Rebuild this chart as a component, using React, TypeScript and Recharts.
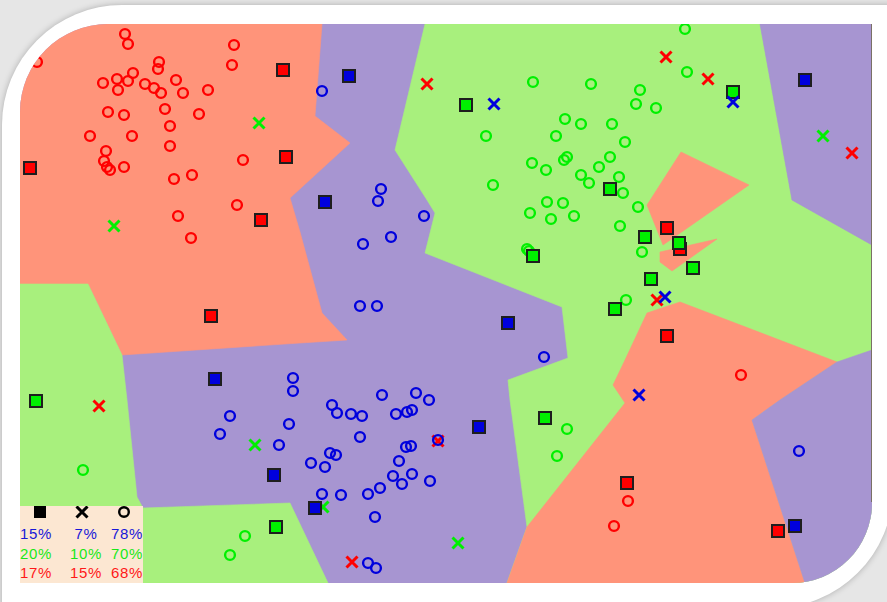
import React from 'react';
import { ScatterChart, Scatter, XAxis, YAxis } from 'recharts';

// feature space of the classifier plot
const X_MAX = 852;
const Y_MAX = 559;

const SALMON = '#FF947A';
const LAVENDER = '#A795D1';
const LIME = '#A8F07D';
const RED = '#FF0000';
const GREEN = '#00F000';
const BLUE = '#0000DD';

// decision regions (polygon vertices)
const regionBackground = [[0, 0], [852, 0], [852, 559], [0, 559]];
const regionRedTopLeft = [[0, 559], [302, 559], [295, 467], [330, 440], [270, 385], [280, 351], [302, 270], [327, 243], [280, 240], [102, 228], [68, 299], [0, 299]];
const regionGreenLeft = [[0, 299], [68, 299], [102, 228], [107, 183], [117, 86], [123, 75], [270, 80], [308, 0], [0, 0]];
const regionGreenMain = [[405, 559], [740, 559], [772, 383], [852, 338], [852, 0], [487, 0], [507, 56], [490, 183], [488, 203], [548, 225], [542, 276], [405, 330], [415, 370], [407, 383], [375, 433]];
const regionRedBottom = [[487, 0], [507, 56], [605, 180], [593, 198], [605, 223], [627, 270], [660, 281], [817, 221], [760, 183], [732, 163], [785, 0]];
const regionBlueBottomRight = [[852, 233], [817, 221], [760, 183], [732, 163], [785, 0], [852, 0]];
const regionBlueTopRight = [[740, 559], [852, 559], [852, 338], [772, 383]];
const regionRedWedgeUpper = [[661, 431], [729, 398], [643, 338], [627, 378]];
const regionRedWedgeLower = [[640, 331], [697, 344], [652, 312], [640, 321]];

// class "red"
const redCircles = [[105, 549], [108, 539], [214, 538], [139, 521], [138, 514], [212, 518], [113, 510], [97, 504], [108, 502], [83, 500], [125, 499], [134, 495], [141, 490], [98, 493], [156, 503], [163, 490], [188, 493], [145, 474], [88, 471], [104, 468], [179, 469], [150, 457], [70, 447], [112, 447], [150, 437], [86, 432], [84, 422], [87, 416], [90, 413], [104, 416], [223, 423], [154, 404], [172, 408], [17, 521], [158, 367], [217, 378], [171, 345], [608, 82], [594, 57], [721, 208]];
const redCrosses = [[407, 499], [646, 526], [688, 504], [832, 430], [79, 177], [637, 283], [418, 142], [332, 21]];
const redSquares = [[263, 513], [266, 426], [10, 415], [241, 363], [191, 267], [647, 355], [660, 334], [647, 247], [607, 100], [758, 52]];

// class "green"
const greenCircles = [[665, 554], [667, 511], [513, 501], [571, 499], [620, 493], [616, 479], [636, 475], [545, 464], [561, 459], [592, 459], [466, 447], [536, 447], [605, 441], [512, 420], [526, 413], [544, 423], [547, 426], [590, 426], [579, 416], [561, 408], [599, 406], [569, 400], [473, 398], [603, 390], [527, 381], [543, 380], [510, 370], [531, 364], [554, 367], [618, 376], [600, 357], [507, 334], [509, 332], [622, 331], [606, 283], [547, 154], [537, 127], [63, 113], [225, 47], [210, 28]];
const greenCrosses = [[239, 460], [803, 447], [94, 357], [235, 138], [303, 76], [438, 40]];
const greenSquares = [[446, 478], [713, 491], [590, 394], [625, 346], [513, 327], [659, 340], [673, 315], [631, 304], [595, 274], [525, 165], [16, 182], [256, 56]];

// class "blue"
const blueCircles = [[302, 492], [361, 394], [358, 382], [404, 367], [371, 346], [343, 339], [340, 277], [357, 277], [524, 226], [273, 205], [273, 192], [210, 167], [200, 149], [269, 159], [259, 138], [362, 188], [396, 190], [409, 183], [312, 178], [317, 170], [331, 169], [342, 167], [376, 169], [387, 171], [392, 173], [340, 146], [418, 143], [386, 136], [391, 137], [310, 130], [316, 128], [291, 120], [305, 116], [379, 122], [373, 107], [392, 109], [382, 99], [410, 102], [302, 89], [321, 88], [348, 89], [360, 95], [355, 66], [348, 20], [356, 15], [779, 132]];
const blueCrosses = [[474, 479], [713, 481], [645, 286], [619, 188]];
const blueSquares = [[329, 507], [785, 503], [305, 381], [488, 260], [195, 204], [254, 108], [295, 75], [459, 156], [775, 57]];

const legendRows = [
  { color: '#1818D8', values: ['15%', '7%', '78%'] },
  { color: '#18E818', values: ['20%', '10%', '70%'] },
  { color: '#FF1818', values: ['17%', '15%', '68%'] },
];

const toPoints = (arr: number[][]) => arr.map(([x, y]) => ({ x, y }));

const polygonLine = (color: string) => (props: any) => (
  <polygon
    points={(props.points || []).map((p: any) => `${p.x},${p.y}`).join(' ')}
    fill={color}
    stroke={color}
    strokeWidth={0.6}
  />
);
const noShape = () => <g />;

const ring = (color: string) => (p: any) => (
  <circle cx={p.cx} cy={p.cy} r={4.9} fill="none" stroke={color} strokeWidth={2.4} />
);
const box = (color: string) => (p: any) => (
  <rect x={p.cx - 6} y={p.cy - 6} width={12} height={12} fill={color} stroke="#1E1E1E" strokeWidth={2} />
);
const cross = (color: string) => (p: any) => (
  <path
    d={`M${p.cx - 5.5},${p.cy - 5.5}L${p.cx + 5.5},${p.cy + 5.5}M${p.cx + 5.5},${p.cy - 5.5}L${p.cx - 5.5},${p.cy + 5.5}`}
    stroke={color}
    strokeWidth={3}
    fill="none"
  />
);

const regions: [string, number[][], string][] = [
  ['bg', regionBackground, LAVENDER],
  ['redTL', regionRedTopLeft, SALMON],
  ['greenL', regionGreenLeft, LIME],
  ['greenMain', regionGreenMain, LIME],
  ['redBottom', regionRedBottom, SALMON],
  ['blueBR', regionBlueBottomRight, LAVENDER],
  ['blueTR', regionBlueTopRight, LAVENDER],
  ['wedgeU', regionRedWedgeUpper, SALMON],
  ['wedgeL', regionRedWedgeLower, SALMON],
];

const markers: [string, number[][], (c: string) => (p: any) => React.ReactElement, string][] = [
  ['rc', redCircles, ring, RED],
  ['rx', redCrosses, cross, RED],
  ['rs', redSquares, box, RED],
  ['gc', greenCircles, ring, GREEN],
  ['gx', greenCrosses, cross, GREEN],
  ['gs', greenSquares, box, GREEN],
  ['bc', blueCircles, ring, BLUE],
  ['bx', blueCrosses, cross, BLUE],
  ['bs', blueSquares, box, BLUE],
];

const Legend = () => (
  <div
    style={{
      position: 'absolute',
      left: 0,
      bottom: 0,
      width: 123,
      height: 77,
      background: '#FCE7D2',
      fontFamily: '"Liberation Sans", Arial, sans-serif',
      fontSize: 15,
      letterSpacing: 0.7,
    }}
  >
    <svg width={123} height={18} style={{ display: 'block' }}>
      <rect x={14} y={0} width={12} height={12} fill="#000" />
      <path d="M56.5,0.5L67.5,11.5M67.5,0.5L56.5,11.5" stroke="#000" strokeWidth={3} />
      <circle cx={104} cy={6} r={4.8} fill="none" stroke="#000" strokeWidth={2.4} />
    </svg>
    {legendRows.map((row, i) => (
      <div key={i} style={{ display: 'flex', color: row.color, height: 19.5, lineHeight: '19.5px' }}>
        {row.values.map((v, j) => (
          <div key={j} style={{ width: j === 2 ? 35 : 44, textAlign: j === 0 ? 'left' : j === 1 ? 'center' : 'right' }}>
            {v}
          </div>
        ))}
      </div>
    ))}
  </div>
);

export default function App() {
  return (
    <div style={{ position: 'absolute', left: 0, top: 0, width: 887, height: 602, overflow: 'hidden', background: '#E6E6E6' }}>
      <div
        style={{
          position: 'absolute',
          left: 2,
          top: 5,
          width: 891,
          height: 603,
          background: '#FFFFFF',
          borderRadius: '120px 0 120px 0',
          boxShadow: '0 0 6px rgba(0,0,0,0.25)',
        }}
      />
      <div
        style={{
          position: 'absolute',
          left: 20,
          top: 24,
          width: 852,
          height: 559,
          overflow: 'hidden',
          borderRadius: '88px 0 80px 0',
        }}
      >
        <ScatterChart width={852} height={559} margin={{ top: 0, right: 0, bottom: 0, left: 0 }}>
          <XAxis type="number" dataKey="x" domain={[0, X_MAX]} hide allowDataOverflow />
          <YAxis type="number" dataKey="y" domain={[0, Y_MAX]} hide allowDataOverflow />
          {regions.map(([key, poly, color]) => (
            <Scatter
              key={key}
              data={toPoints(poly)}
              line={polygonLine(color)}
              lineType="joint"
              shape={noShape}
              isAnimationActive={false}
              legendType="none"
            />
          ))}
          {markers.map(([key, list, make, color]) => (
            <Scatter key={key} data={toPoints(list)} shape={make(color)} isAnimationActive={false} legendType="none" />
          ))}
        </ScatterChart>
        <Legend />
        <div style={{ position: 'absolute', right: 0, top: 0, width: 1, height: 478, background: '#7A7066' }} />
      </div>
    </div>
  );
}
